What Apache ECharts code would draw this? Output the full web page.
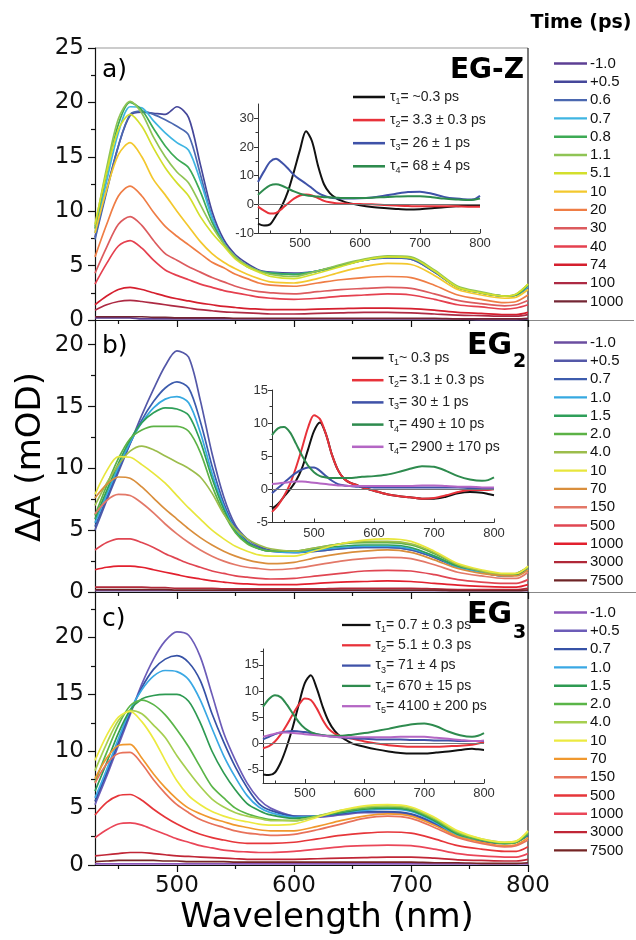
<!DOCTYPE html>
<html><head><meta charset="utf-8">
<script src="https://cdn.jsdelivr.net/npm/echarts@6/dist/echarts.min.js"></script>
<style>html,body{margin:0;padding:0;background:#fff}#c{width:636px;height:940px}</style>
</head><body><div id="c"></div>
<script>
// ---------- data ----------
const WL = [430,440,450,460,470,480,490, 500,510,520,530,540,550,560, 570,580,600,620,640,660,680, 700,720,740,760,780,790,800];

// Panel a) EG-Z
const labA = ['-1.0','+0.5','0.6','0.7','0.8','1.1','5.1','10','20','30','40','74','100','1000'];
const aN10  = [0.2,0.2,0.2,0.2,0.1,0.1,0.1, 0.1,0.1,0.1,0.1,0.1,0.1,0.1, 0.1,0.1,0.1,0.1,0.1,0.1,0.1, 0.1,0.1,0.1,0.0,0.0,0.0,0.1];
const aP05  = [7.6,12.0,16.0,18.8,19.1,19.0,18.9, 19.6,18.6,14.3,10.0,7.4,6.0,5.2, 4.6,4.4,4.3,4.5,5.0,5.5,5.7, 5.6,4.4,3.0,2.5,2.2,2.3,3.0];
const aP06  = [7.4,11.8,16.0,18.9,19.2,18.9,18.4, 17.8,17.0,13.4,9.5,7.1,5.8,5.0, 4.5,4.3,4.2,4.5,5.0,5.5,5.7, 5.6,4.4,3.0,2.5,2.2,2.3,3.0];
const aP07  = [8.0,12.8,17.2,19.6,19.5,18.3,17.2, 16.3,15.6,12.8,9.4,7.1,5.8,5.0, 4.5,4.3,4.2,4.5,5.0,5.5,5.8, 5.7,4.5,3.0,2.5,2.2,2.3,3.1];
const aP08  = [8.4,13.5,18.0,20.0,19.3,17.6,16.0, 14.8,14.0,11.8,9.0,7.0,5.7,4.9, 4.5,4.3,4.2,4.5,5.0,5.5,5.8, 5.7,4.5,3.0,2.5,2.2,2.3,3.2];
const aP11  = [8.6,14.0,18.5,20.1,19.0,16.8,15.0, 13.6,12.6,10.6,8.6,7.0,5.8,5.0, 4.5,4.2,4.0,4.5,5.1,5.6,5.9, 5.8,4.6,3.1,2.6,2.2,2.4,3.3];
const aP51  = [8.8,13.6,17.5,18.9,17.8,15.8,14.0, 12.6,11.4,9.5,8.0,6.8,5.6,4.9, 4.4,4.0,3.8,4.3,4.9,5.5,5.8, 5.7,4.5,3.0,2.5,2.2,2.4,3.3];
const aP10  = [8.0,12.0,15.2,16.3,15.0,12.9,11.5, 10.0,8.6,7.2,6.1,5.3,4.7,4.2, 3.8,3.5,3.4,3.8,4.4,4.9,5.2, 5.1,4.1,2.8,2.3,2.0,2.1,2.8];
const aP20  = [5.8,8.8,11.4,12.3,11.4,9.9,8.6, 7.7,6.9,6.1,5.3,4.8,4.2,3.8, 3.4,3.2,3.1,3.4,3.7,3.9,4.0, 3.9,3.2,2.3,1.9,1.6,1.7,2.3];
const aP30  = [4.3,6.7,8.8,9.5,8.7,7.3,6.1, 5.5,4.9,4.4,3.9,3.5,3.1,2.8, 2.6,2.5,2.4,2.6,2.8,2.9,3.0, 2.9,2.4,1.8,1.5,1.3,1.4,1.8];
const aP40  = [3.3,5.2,6.8,7.3,6.6,5.5,4.6, 4.1,3.7,3.3,3.0,2.7,2.5,2.3, 2.1,2.0,1.9,2.0,2.2,2.3,2.4, 2.3,1.9,1.4,1.2,1.0,1.1,1.4];
const aP74  = [1.4,2.2,2.8,3.0,2.8,2.5,2.2, 1.95,1.75,1.55,1.4,1.25,1.15,1.05, 1.0,0.95,0.95,1.0,1.05,1.1,1.1, 1.05,0.9,0.7,0.6,0.5,0.5,0.7];
const aP100 = [0.9,1.4,1.7,1.8,1.7,1.55,1.4, 1.25,1.1,0.95,0.85,0.75,0.7,0.65, 0.6,0.55,0.55,0.6,0.65,0.7,0.7, 0.65,0.55,0.45,0.4,0.35,0.35,0.5];
const aP1000= [0.3,0.3,0.3,0.3,0.3,0.25,0.25, 0.2,0.2,0.2,0.2,0.2,0.15,0.15, 0.15,0.15,0.15,0.15,0.15,0.15,0.15, 0.15,0.15,0.1,0.1,0.1,0.1,0.15];
const specA = [aN10,aP05,aP06,aP07,aP08,aP11,aP51,aP10,aP20,aP30,aP40,aP74,aP100,aP1000];
const colA = ['#5d3f94','#45479a','#4b68b0','#3fb5e2','#3daa55','#8fc455','#d3df2c','#f3c82e','#ef7d45','#dc5b5e','#e5404f','#d51f2e','#ad2a43','#742634'];

// Panel b) EG2
const labB = ['-1.0','+0.5','0.7','1.0','1.5','2.0','4.0','10','70','150','500','1000','3000','7500'];
const bN10  = [0.1,0.1,0.1,0.1,0.1,0.1,0.1, 0.1,0.1,0.1,0.1,0.1,0.1,0.1, 0.1,0.1,0.1,0.1,0.1,0.1,0.1, 0.1,0.1,0.1,0.1,0.1,0.1,0.1];
const bP05  = [5.0,7.4,9.7,12.0,14.3,16.4,18.3, 19.5,19.0,15.5,11.2,7.7,5.4,4.3, 3.7,3.4,3.2,3.3,3.5,3.6,3.6, 3.4,2.8,2.0,1.6,1.3,1.4,1.9];
const bP07  = [5.3,7.6,9.9,12.0,13.9,15.4,16.5, 17.0,16.5,13.8,10.2,7.2,5.2,4.1, 3.6,3.3,3.2,3.3,3.5,3.6,3.6, 3.4,2.8,2.0,1.6,1.3,1.4,1.9];
const bP10  = [5.6,7.9,10.1,12.1,13.7,14.9,15.6, 15.8,15.3,12.9,9.6,6.9,5.0,4.0, 3.5,3.3,3.2,3.4,3.6,3.7,3.7, 3.5,2.9,2.0,1.6,1.3,1.4,1.9];
const bP15  = [5.9,8.2,10.4,12.3,13.7,14.5,14.9, 14.8,14.3,12.2,9.2,6.7,4.9,4.0, 3.5,3.3,3.3,3.5,3.7,3.8,3.8, 3.6,2.9,2.1,1.7,1.4,1.4,2.0];
const bP20  = [6.2,8.6,10.8,12.4,13.1,13.4,13.4, 13.4,13.0,11.3,8.6,6.4,4.8,3.9, 3.5,3.3,3.3,3.6,3.9,4.0,4.0, 3.8,3.1,2.2,1.7,1.4,1.5,2.0];
const bP40  = [7.0,8.8,10.3,11.4,11.8,11.5,11.0, 10.5,10.0,9.3,8.0,6.3,5.1,4.3, 3.8,3.5,3.3,3.6,3.9,4.1,4.1, 3.9,3.2,2.2,1.7,1.4,1.5,2.0];
const bP10ps= [7.9,9.8,10.95,10.9,10.3,9.6,8.8, 7.8,6.8,5.9,5.0,4.3,3.7,3.3, 3.0,2.9,2.9,3.4,3.9,4.2,4.3, 4.1,3.3,2.3,1.8,1.5,1.5,2.1];
const bP70  = [7.6,8.7,9.3,9.2,8.5,7.6,6.7, 5.9,5.1,4.4,3.8,3.3,2.9,2.6, 2.4,2.3,2.4,2.8,3.1,3.3,3.4, 3.2,2.6,1.9,1.5,1.3,1.3,1.8];
const bP150 = [6.3,7.4,7.9,7.8,7.2,6.4,5.5, 4.7,4.0,3.4,2.9,2.5,2.2,2.0, 1.9,1.8,1.9,2.2,2.5,2.7,2.8, 2.7,2.2,1.6,1.3,1.1,1.1,1.6];
const bP500 = [3.4,4.0,4.3,4.3,4.0,3.6,3.1, 2.7,2.3,2.0,1.7,1.5,1.3,1.2, 1.1,1.05,1.1,1.3,1.5,1.7,1.75, 1.7,1.4,1.0,0.8,0.7,0.7,1.0];
const bP1000= [1.8,2.0,2.1,2.1,2.0,1.8,1.6, 1.4,1.2,1.05,0.9,0.8,0.7,0.65, 0.6,0.6,0.6,0.7,0.8,0.85,0.9, 0.85,0.7,0.55,0.45,0.4,0.4,0.6];
const bP3000= [0.4,0.4,0.4,0.4,0.4,0.35,0.35, 0.3,0.3,0.3,0.3,0.25,0.25,0.25, 0.25,0.25,0.25,0.25,0.3,0.3,0.3, 0.3,0.25,0.2,0.2,0.2,0.2,0.3];
const bP7500= [0.2,0.2,0.2,0.2,0.2,0.2,0.2, 0.15,0.15,0.15,0.15,0.15,0.15,0.15, 0.15,0.15,0.15,0.15,0.15,0.15,0.15, 0.15,0.15,0.1,0.1,0.1,0.1,0.15];
const specB = [bN10,bP05,bP07,bP10,bP15,bP20,bP40,bP10ps,bP70,bP150,bP500,bP1000,bP3000,bP7500];
const colB = ['#6b4ea0','#5458a8','#3d5cad','#36a9e1','#2f9f5a','#5cb246','#9cbd4c','#e8e63c','#d98e3c','#e37868','#e04652','#e2202e','#b02838','#6e2426'];

// Panel c) EG3
const labC = ['-1.0','+0.5','0.7','1.0','1.5','2.0','4.0','10','70','150','500','1000','3000','7500'];
const cN10  = [0.1,0.1,0.1,0.1,0.1,0.1,0.1, 0.1,0.1,0.1,0.1,0.1,0.1,0.1, 0.1,0.1,0.1,0.1,0.1,0.1,0.1, 0.1,0.1,0.1,0.1,0.1,0.1,0.1];
const cP05  = [5.3,7.8,10.5,13.2,15.9,18.1,19.7, 20.5,20.2,18.3,15.0,11.6,9.2,7.2, 5.8,5.0,4.3,4.2,4.4,4.6,4.6, 4.4,3.6,2.5,2.1,1.9,2.0,2.6];
const cP07  = [5.6,8.1,10.8,13.4,15.6,17.2,18.1, 18.4,17.8,16.2,13.3,10.8,8.6,6.8, 5.4,4.8,4.3,4.3,4.5,4.7,4.7, 4.5,3.7,2.6,2.1,1.9,2.0,2.6];
const cP10  = [5.9,8.4,11.1,13.6,15.4,16.6,17.1, 17.0,16.3,14.5,12.0,9.6,7.7,6.1, 5.1,4.6,4.2,4.3,4.6,4.8,4.9, 4.7,3.8,2.6,2.2,1.9,2.0,2.7];
const cP15  = [6.5,9.0,11.6,13.6,14.6,14.9,15.0, 15.0,14.4,12.5,10.0,8.1,6.6,5.4, 4.8,4.4,4.1,4.3,4.6,4.9,5.0, 4.8,3.9,2.7,2.2,1.9,2.0,2.7];
const cP20  = [7.3,9.9,12.3,14.0,14.5,14.1,13.2, 11.9,10.4,8.6,6.9,5.9,5.0,4.5, 4.2,4.0,3.9,4.3,4.7,5.0,5.1, 4.9,4.0,2.8,2.2,1.9,2.0,2.8];
const cP40  = [8.3,10.7,12.7,13.6,13.3,12.3,11.2, 9.6,8.2,6.9,5.8,5.1,4.6,4.3, 4.1,3.9,3.9,4.3,4.8,5.1,5.2, 5.0,4.1,2.9,2.3,2.0,2.1,2.9];
const cP10ps= [9.2,11.4,13.0,13.5,12.6,11.1,9.2, 7.4,6.1,5.3,4.7,4.3,4.0,3.8, 3.6,3.5,3.6,4.2,4.8,5.2,5.3, 5.1,4.2,3.0,2.3,2.0,2.1,3.0];
const cP70  = [7.6,9.4,10.5,10.6,9.4,8.0,6.8, 5.8,5.0,4.5,4.1,3.8,3.5,3.3, 3.1,3.0,3.0,3.4,3.9,4.3,4.5, 4.3,3.5,2.5,2.0,1.7,1.8,2.4];
const cP150 = [7.2,8.9,9.8,9.9,8.9,7.5,6.3, 5.3,4.6,4.0,3.6,3.3,3.0,2.8, 2.7,2.6,2.7,3.1,3.6,4.1,4.3, 4.1,3.3,2.4,1.9,1.6,1.7,2.2];
const cP500 = [4.4,5.5,6.1,6.2,5.7,4.9,4.2, 3.6,3.1,2.7,2.4,2.2,2.0,1.9, 1.9,1.9,2.0,2.3,2.6,2.8,2.9, 2.8,2.3,1.7,1.4,1.2,1.2,1.6];
const cP1000= [2.4,3.1,3.6,3.7,3.5,3.1,2.7, 2.3,2.0,1.7,1.5,1.3,1.2,1.15, 1.1,1.1,1.2,1.4,1.6,1.7,1.75, 1.7,1.4,1.0,0.8,0.7,0.7,1.0];
const cP3000= [0.8,0.9,1.0,1.1,1.1,1.0,0.9, 0.8,0.75,0.7,0.65,0.6,0.55,0.5, 0.5,0.5,0.5,0.55,0.6,0.65,0.7, 0.7,0.6,0.45,0.4,0.35,0.35,0.5];
const cP7500= [0.3,0.35,0.4,0.4,0.4,0.4,0.35, 0.35,0.3,0.3,0.3,0.3,0.25,0.25, 0.25,0.25,0.25,0.25,0.25,0.25,0.25, 0.25,0.2,0.2,0.15,0.15,0.15,0.2];
const specC = [cN10,cP05,cP07,cP10,cP15,cP20,cP40,cP10ps,cP70,cP150,cP500,cP1000,cP3000,cP7500];
const colC = ['#8a55b8','#6c5cb8','#3652a6','#3aa8e4','#2e9a52','#5ab548','#a6cf50','#ecea40','#f0982e','#e8725a','#e6363a','#ea4658','#c02636','#752424'];

// Insets (decay-associated spectra)
const iaT1 = [-6.7,-7.4,-7.0,-4.0,-0.5,4.5,11.5, 19.0,25.5,22.0,13.5,7.0,3.8,2.2, 1.2,0.5,-0.3,-0.9,-1.3,-1.6,-1.8, -1.7,-1.4,-1.0,-0.7,-0.5,-0.5,-0.6];
const iaT2 = [-0.8,-2.2,-3.2,-3.0,-1.5,0.3,2.0, 3.1,3.4,3.1,2.2,1.2,0.7,0.4, 0.3,0.2,0.1,0.0,-0.2,-0.4,-0.6, -0.7,-0.7,-0.7,-0.7,-0.8,-0.8,-0.8];
const iaT3 = [7.8,11.5,14.8,15.9,14.5,12.5,10.2, 8.6,7.2,5.6,4.0,3.0,2.4,2.1, 2.0,2.0,2.1,2.4,3.0,3.7,4.3, 4.4,3.7,2.6,2.0,1.7,1.8,3.0];
const iaT4 = [3.3,5.2,6.6,7.0,6.5,5.5,4.5, 3.7,3.2,2.9,2.7,2.5,2.4,2.3, 2.2,2.2,2.2,2.3,2.5,2.7,2.8, 2.8,2.5,2.0,1.7,1.5,1.6,2.0];
const insA = [iaT1,iaT2,iaT3,iaT4];
const subA = ['1','2','3','4'];
const txtA = ['= ~0.3 ps','= 3.3 \u00b1 0.3 ps','= 26 \u00b1 1 ps','= 68 \u00b1 4 ps'];
const icolA = ['#111111','#e8323a','#3f52a8','#2e8b4e'];

const ibT1 = [-2.9,-2.2,-1.1,0.0,1.3,3.2,6.0, 8.8,10.1,8.3,5.2,2.9,1.6,1.0, 0.7,0.3,-0.2,-0.7,-1.0,-1.2,-1.4, -1.4,-1.1,-0.6,-0.4,-0.5,-0.7,-0.9];
const ibT2 = [-3.4,-2.4,-1.0,0.8,3.3,6.2,9.3, 11.2,10.6,8.3,5.2,2.9,1.6,1.0, 0.7,0.3,-0.2,-0.7,-1.0,-1.2,-1.4, -1.3,-0.9,-0.4,-0.1,-0.1,-0.1,0.0];
const ibT3 = [-0.6,0.2,1.0,1.8,2.5,3.0,3.3, 3.3,2.8,2.0,1.3,0.8,0.6,0.5, 0.4,0.4,0.3,0.3,0.3,0.3,0.3, 0.3,0.3,0.3,0.2,0.2,0.2,0.2];
const ibT4 = [8.2,9.2,9.4,8.6,6.9,5.1,3.6, 2.6,2.0,1.8,1.7,1.7,1.7,1.7, 1.8,1.9,2.0,2.2,2.6,3.1,3.5, 3.4,2.8,2.0,1.5,1.3,1.4,1.8];
const ibT5 = [0.8,0.9,1.0,1.1,1.2,1.2,1.1, 1.0,0.9,0.8,0.7,0.6,0.6,0.5, 0.5,0.5,0.5,0.5,0.5,0.5,0.6, 0.6,0.5,0.4,0.4,0.3,0.3,0.3];
const insB = [ibT1,ibT2,ibT3,ibT4,ibT5];
const subB = ['1','2','3','4','4'];
const txtB = ['~ 0.3 ps','= 3.1 \u00b1 0.3 ps','= 30 \u00b1 1 ps','= 490 \u00b1 10 ps','= 2900 \u00b1 170 ps'];
const icolB = ['#111111','#e8323a','#3f52a8','#2e8b4e','#b466c4'];

const icT1 = [-5.9,-6.0,-5.5,-3.5,-0.5,3.2,7.5, 11.5,13.0,10.5,7.0,4.2,2.4,1.3, 0.6,0.0,-0.6,-1.1,-1.5,-1.8,-1.9, -1.9,-1.7,-1.5,-1.2,-1.0,-1.1,-1.2];
const icT2 = [-0.9,-0.5,0.4,1.8,3.6,5.6,7.4, 8.6,8.3,6.7,4.5,2.8,1.9,1.4, 1.1,0.9,0.4,0.0,-0.3,-0.5,-0.6, -0.6,-0.6,-0.5,-0.4,-0.2,0.0,0.3];
const icT3 = [0.8,1.3,1.8,2.1,2.3,2.4,2.3, 2.2,2.0,1.8,1.6,1.4,1.3,1.2, 1.1,1.0,0.9,0.8,0.8,0.8,0.7, 0.7,0.6,0.6,0.5,0.5,0.5,0.5];
const icT4 = [7.0,8.5,9.2,8.8,7.4,5.7,4.1, 2.9,2.2,1.8,1.6,1.5,1.5,1.5, 1.6,1.7,2.0,2.4,2.8,3.3,3.7, 3.8,3.3,2.3,1.6,1.3,1.5,2.0];
const icT5 = [1.3,1.6,1.9,2.1,2.1,2.0,1.9, 1.8,1.7,1.6,1.5,1.4,1.3,1.2, 1.2,1.2,1.2,1.2,1.2,1.3,1.3, 1.3,1.1,0.9,0.7,0.5,0.5,0.6];
const insC = [icT1,icT2,icT3,icT4,icT5];
const subC = ['1','2','3','4','5'];
const txtC = ['= 0.7 \u00b1 0.3 ps','= 5.1 \u00b1 0.3 ps','= 71 \u00b1 4 ps','= 670 \u00b1 15 ps','= 4100 \u00b1 200 ps'];
const icolC = ['#111111','#e8323a','#3f52a8','#2e8b4e','#b466c4'];

// tick values
const mainXMajor = [500,600,700,800], mainXMinor = [450,550,650,750];

// ---------- chart ----------
const FONT = '"DejaVu Sans", Arial, sans-serif';
const LFONT = '"Liberation Sans", Arial, sans-serif';
const grids = [
  {left:95, top:48, width:433, height:272},
  {left:95, top:320, width:433, height:272},
  {left:95, top:592, width:433, height:273},
  {left:258, top:104, width:222, height:129},
  {left:272, top:390, width:222, height:132.5},
  {left:263, top:649, width:221, height:134}
];
const xAxes = [], yAxes = [];
function addX(grid, min, max, major, minor, o){
  const idx = xAxes.length;
  const ls = {color:o.color, width:o.lw};
  xAxes.push({type:'value', gridIndex:grid, min, max, position:'bottom',
    axisLine:{show:true, onZero:false, lineStyle:ls},
    axisTick:{show:true, inside:o.inside, length:o.maj, customValues:major, lineStyle:ls},
    axisLabel:{show:o.labels, customValues:major, margin:o.margin, fontFamily:o.font, fontSize:o.fs, color:o.tc},
    splitLine:{show:false}});
  xAxes.push({type:'value', gridIndex:grid, min, max, position:'bottom',
    axisLine:{show:false, onZero:false},
    axisTick:{show:true, inside:o.inside, length:o.min, customValues:minor, lineStyle:ls},
    axisLabel:{show:false, customValues:minor}, splitLine:{show:false}});
  return idx;
}
function addY(grid, min, max, major, minor, o){
  const idx = yAxes.length;
  const ls = {color:o.color, width:o.lw};
  yAxes.push({type:'value', gridIndex:grid, min, max, position:'left',
    axisLine:{show:true, onZero:false, lineStyle:ls},
    axisTick:{show:true, inside:false, length:o.maj, customValues:major, lineStyle:ls},
    axisLabel:{show:true, customValues:major, margin:o.margin, fontFamily:o.font, fontSize:o.fs, color:o.tc},
    splitLine:{show:false}});
  yAxes.push({type:'value', gridIndex:grid, min, max, position:'left',
    axisLine:{show:false, onZero:false},
    axisTick:{show:true, inside:false, length:o.min, customValues:minor, lineStyle:ls},
    axisLabel:{show:false, customValues:minor}, splitLine:{show:false}});
  return idx;
}
const mainO = {color:'#111', lw:1.2, maj:7, min:4, inside:false, margin:10, font:FONT, fs:23, tc:'#111'};
const insO  = {color:'#333', lw:1, maj:4, min:2.5, inside:true, margin:4, font:LFONT, fs:13, tc:'#333'};
const insYO = Object.assign({}, insO, {margin:4});

const xa = addX(0, 430, 800, mainXMajor, mainXMinor, Object.assign({}, mainO, {labels:false}));
const xb = addX(1, 430, 800, mainXMajor, mainXMinor, Object.assign({}, mainO, {labels:false}));
const xc = addX(2, 430, 800, mainXMajor, mainXMinor, Object.assign({}, mainO, {labels:true}));
const ya = addY(0, 0, 25, [0,5,10,15,20,25], [2.5,7.5,12.5,17.5,22.5], Object.assign({}, mainO, {margin:11}));
const yb = addY(1, 0, 22, [0,5,10,15,20], [2.5,7.5,12.5,17.5], Object.assign({}, mainO, {margin:11}));
const yc = addY(2, 0, 24, [0,5,10,15,20], [2.5,7.5,12.5,17.5,22.5], Object.assign({}, mainO, {margin:11}));
const xia = addX(3, 430, 800, mainXMajor, mainXMinor, Object.assign({}, insO, {labels:true}));
const xib = addX(4, 430, 800, mainXMajor, mainXMinor, Object.assign({}, insO, {labels:true}));
const xic = addX(5, 430, 800, mainXMajor, mainXMinor, Object.assign({}, insO, {labels:true}));
const yia = addY(3, -10, 35, [-10,0,10,20,30], [-5,5,15,25], insYO);
const yib = addY(4, -5, 15, [-5,0,5,10,15], [-2.5,2.5,7.5,12.5], insYO);
const yic = addY(5, -7.5, 18, [-5,0,5,10,15], [-2.5,2.5,7.5,12.5,17.5], insYO);

const series = [];
function line(name, vals, color, xi, yi, w){
  return {type:'line', name, xAxisIndex:xi, yAxisIndex:yi,
    data: WL.map((x,i)=>[x, vals[i]]), symbol:'none', showSymbol:false, smooth:0.3,
    lineStyle:{color, width:w}, itemStyle:{color}, silent:true, animation:false};
}
const namesA = [], namesB = [], namesC = [];
specA.forEach((v,i)=>{ const n='A|'+labA[i]; namesA.push(n); series.push(line(n, v, colA[i], xa, ya, 1.7)); });
specB.forEach((v,i)=>{ const n='B|'+labB[i]; namesB.push(n); series.push(line(n, v, colB[i], xb, yb, 1.7)); });
specC.forEach((v,i)=>{ const n='C|'+labC[i]; namesC.push(n); series.push(line(n, v, colC[i], xc, yc, 1.7)); });

const zeroLine = {silent:true, symbol:['none','none'], label:{show:false},
  lineStyle:{color:'#777', width:1, type:'solid'}, data:[{yAxis:0}], animation:false};
const inA = [], inB = [], inC = [];
insA.forEach((v,i)=>{ const n='ia'+i; inA.push(n); const s=line(n, v, icolA[i], xia, yia, 2); if(i===0) s.markLine=zeroLine; series.push(s); });
insB.forEach((v,i)=>{ const n='ib'+i; inB.push(n); const s=line(n, v, icolB[i], xib, yib, 2); if(i===0) s.markLine=zeroLine; series.push(s); });
insC.forEach((v,i)=>{ const n='ic'+i; inC.push(n); const s=line(n, v, icolC[i], xic, yic, 2); if(i===0) s.markLine=zeroLine; series.push(s); });

function mainLegend(names, top){
  return {orient:'vertical', left:549, top, itemWidth:33, itemHeight:14, itemGap:3.3,
    icon:'path://M0,0H33V2.4H0Z',
    data:names, selectedMode:false, formatter:(n)=>n.split('|')[1],
    textStyle:{fontFamily:LFONT, fontSize:15, color:'#111', padding:[0,0,0,-2]}};
}
const richTau = {
  t:{fontFamily:LFONT, fontSize:14, color:'#222', lineHeight:18},
  s:{fontFamily:LFONT, fontSize:9, color:'#222', lineHeight:8, verticalAlign:'bottom'}
};
function insLegend(names, subs, txts, left, top, w, gap){
  return {orient:'vertical', left, top, itemWidth:w, itemHeight:14, itemGap:gap,
    icon:'path://M0,0H30V2.4H0Z',
    data:names, selectedMode:false,
    formatter:(n)=>{ const i = names.indexOf(n); return '{t|\u03c4}{s|'+subs[i]+'}{t|'+txts[i]+'}'; },
    textStyle:{rich:richTau}};
}

const G = [];
function txt(x, y, text, size, weight, align, vAlign, extra){
  return Object.assign({type:'text', x, y, silent:true, style:{text, fontFamily:FONT, fontSize:size, fontWeight:weight,
    fill:'#000', textAlign:align, align:align, textVerticalAlign:vAlign, verticalAlign:vAlign}}, extra||{});
}
function ln(x1,y1,x2,y2,color,w){ return {type:'line', silent:true, shape:{x1,y1,x2,y2}, style:{stroke:color, lineWidth:w}}; }
G.push(ln(95,48,528,48,'#999',1));
G.push(ln(528,48,528,865,'#222',1.2));
G.push(ln(528,320.5,634,320.5,'#888',1));
G.push(ln(528,592.5,636,592.5,'#888',1));
G.push(txt(581,23,'Time (ps)',19,'bold','center','middle'));
G.push(txt(102,70,'a)',25,'normal','left','middle'));
G.push(txt(102,346,'b)',25,'normal','left','middle'));
G.push(txt(102,619,'c)',25,'normal','left','middle'));
G.push(txt(524,71,'EG-Z',28,'bold','right','middle'));
G.push(txt(512,346,'EG',30,'bold','right','middle'));
G.push(txt(513,362,'2',19,'bold','left','middle'));
G.push(txt(512,615,'EG',30,'bold','right','middle'));
G.push(txt(513,633,'3',19,'bold','left','middle'));
G.push(txt(31,457,'\u0394A (mOD)',34,'normal','center','middle',{rotation:Math.PI/2}));
G.push(txt(327,918,'Wavelength (nm)',34,'normal','center','middle'));

const option = {
  animation:false,
  backgroundColor:'#fff',
  textStyle:{fontFamily:FONT},
  grid:grids,
  xAxis:xAxes,
  yAxis:yAxes,
  legend:[
    mainLegend(namesA, 51), mainLegend(namesB, 330), mainLegend(namesC, 600),
    insLegend(inA, subA, txtA, 348, 85, 32, 7.1),
    insLegend(inB, subB, txtB, 347, 346, 31.5, 6.2),
    insLegend(inC, subC, txtC, 337, 613, 28.5, 4.3)
  ],
  graphic:G,
  series
};
const chart = echarts.init(document.getElementById('c'), null, {renderer:'canvas'});
chart.setOption(option);
</script></body></html>
